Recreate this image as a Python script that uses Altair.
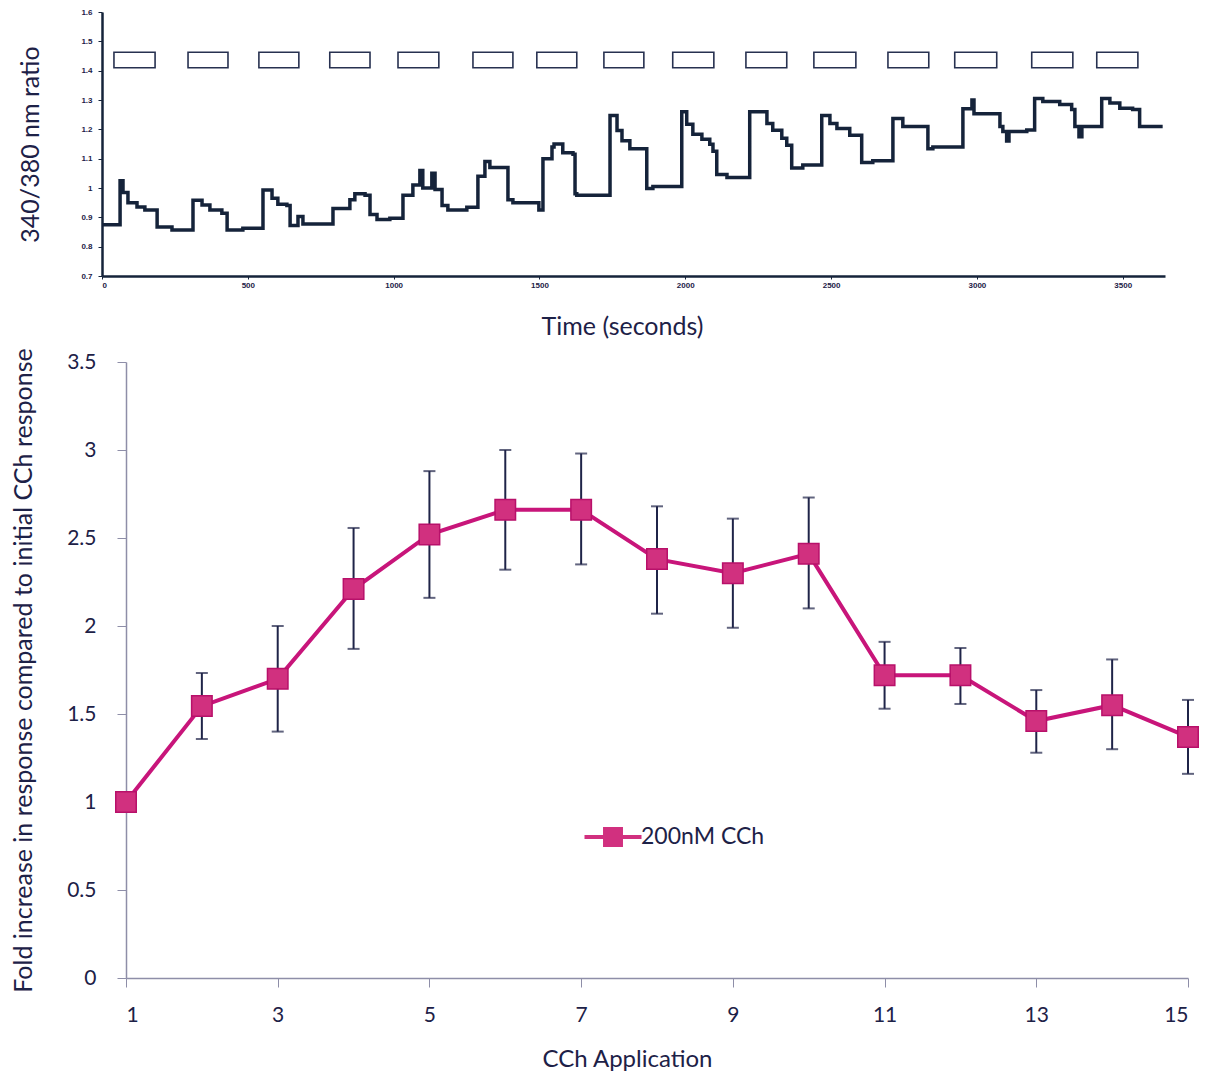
import altair as alt
import pandas as pd

# ---------------- top panel: 340/380 ratio trace ----------------
trace_t = [0, 62, 72, 89, 120, 147, 189, 240,
           312, 343, 370, 411, 429, 483,
           552, 583, 603, 634, 645, 672, 689,
           792, 850, 867, 902, 919, 943, 987,
           1032, 1066, 1090, 1100, 1131, 1142, 1166, 1186, 1251,
           1289, 1313, 1330, 1392, 1409, 1498,
           1512, 1543, 1550, 1580, 1615, 1622, 1628,
           1742, 1766, 1783, 1810, 1868, 1889,
           1988, 2005, 2026, 2057, 2084, 2095, 2108, 2143,
           2221, 2280, 2300, 2331, 2348, 2365, 2403,
           2468, 2496, 2520, 2564, 2605, 2643,
           2712, 2746, 2832, 2849,
           2952, 2983, 2990, 3079, 3089, 3102, 3110, 3171,
           3198, 3226, 3284, 3325, 3336, 3350, 3360,
           3428, 3456, 3490, 3534, 3558, 3637]
trace_r = [0.875, 1.025, 0.985, 0.95, 0.935, 0.925, 0.867, 0.857,
           0.958, 0.942, 0.925, 0.914, 0.857, 0.863,
           0.993, 0.965, 0.945, 0.94, 0.872, 0.903, 0.877,
           0.93, 0.96, 0.98, 0.975, 0.91, 0.893, 0.897,
           0.975, 1.01, 1.06, 1.0, 1.05, 0.995, 0.94, 0.925, 0.934,
           1.04, 1.09, 1.07, 0.96, 0.95, 0.925,
           1.10, 1.14, 1.15, 1.12, 1.115, 0.98, 0.975,
           1.247, 1.196, 1.161, 1.134, 0.998, 1.005,
           1.26, 1.217, 1.183, 1.166, 1.149, 1.125, 1.046, 1.036,
           1.26, 1.22, 1.197, 1.17, 1.146, 1.068, 1.078,
           1.247, 1.22, 1.203, 1.18, 1.087, 1.093,
           1.237, 1.21, 1.134, 1.14,
           1.27, 1.30, 1.253, 1.21, 1.193, 1.16, 1.193, 1.198,
           1.305, 1.295, 1.285, 1.268, 1.21, 1.175, 1.21,
           1.305, 1.29, 1.272, 1.268, 1.21, 1.21]

# CCh application periods (boxes)
box_start = [41, 295, 538, 781, 1015, 1272, 1491, 1721, 1957, 2208, 2441, 2695, 2924, 3188, 3411]
box_end = [182, 432, 675, 919, 1155, 1409, 1628, 1858, 2098, 2348, 2585, 2835, 3068, 3329, 3552]
box_low = 1.41
box_high = 1.463

top_x_ticks = [0, 500, 1000, 1500, 2000, 2500, 3000, 3500]
top_y_ticks = [0.7, 0.8, 0.9, 1.0, 1.1, 1.2, 1.3, 1.4, 1.5, 1.6]

# ---------------- bottom panel: fold increase ----------------
application = list(range(1, 16))
fold = [1.0, 1.545, 1.70, 2.21, 2.52, 2.66, 2.66, 2.38, 2.30, 2.41, 1.72, 1.72, 1.46, 1.55, 1.37]
err_low = [None, 1.358, 1.40, 1.87, 2.16, 2.32, 2.35, 2.07, 1.99, 2.10, 1.53, 1.557, 1.28, 1.30, 1.16]
err_high = [None, 1.733, 2.00, 2.557, 2.88, 3.00, 2.98, 2.68, 2.61, 2.73, 1.91, 1.875, 1.636, 1.81, 1.58]
series_name = "200nM CCh"

bottom_x_ticks = [1, 3, 5, 7, 9, 11, 13, 15]
bottom_y_ticks = [0, 0.5, 1, 1.5, 2, 2.5, 3, 3.5]

TEXT = "#1d2147"
NAVY = "#15233a"
MAGENTA = "#c8157a"
AXIS_GREY = "#8e8ea8"
FONT = "Lato"

trace_df = pd.DataFrame({"t": trace_t, "r": trace_r, "i": list(range(len(trace_t)))})
box_df = pd.DataFrame({"s": box_start, "e": box_end,
                       "lo": [box_low] * len(box_start), "hi": [box_high] * len(box_start)})

W = 1063
xs_top = alt.Scale(domain=[0, 3645], range=[-24, W - 24], nice=False, zero=False)
ys_top = alt.Scale(domain=[0.7, 1.6], nice=False, zero=False)

top_xax = alt.Axis(
    values=top_x_ticks, format="d", grid=False, labelFontSize=8, labelFontWeight="bold",
    labelFont="Liberation Sans", labelColor=TEXT, tickSize=3, tickColor=NAVY,
    domainColor=NAVY, domainWidth=2.5, labelPadding=2, labelOverlap=False,
    title="Time (seconds)", titleFontSize=25, titleFontWeight="normal", titleColor=TEXT,
    titleFont=FONT, titleX=496, titleY=58, titleAlign="center", titleBaseline="alphabetic")
top_yax = alt.Axis(
    values=top_y_ticks, format="~g", grid=False, labelFontSize=8, labelFontWeight="bold",
    labelFont="Liberation Sans", labelColor=TEXT, tickSize=4, tickColor=NAVY,
    domainColor=NAVY, domainWidth=2.5, offset=24, labelPadding=6, labelOverlap=False,
    title="340/380 nm ratio", titleFontSize=25, titleFontWeight="normal", titleColor=TEXT,
    titleFont=FONT, titlePadding=37)

trace = alt.Chart(trace_df).mark_line(interpolate="step-after", color=NAVY, strokeWidth=3.5).encode(
    x=alt.X("t:Q", scale=xs_top, axis=top_xax),
    y=alt.Y("r:Q", scale=ys_top, axis=top_yax),
    order="i:Q",
)

boxes = alt.Chart(box_df).mark_rect(fillOpacity=0, stroke="#273150", strokeWidth=1.6).encode(
    x=alt.X("s:Q", scale=xs_top, axis=top_xax), x2="e:Q",
    y=alt.Y("lo:Q", scale=ys_top, axis=top_yax), y2="hi:Q")

top = alt.layer(trace, boxes).properties(width=W, height=264)

main_df = pd.DataFrame({"app": application, "fold": fold, "series": [series_name] * len(fold)})
err_df = pd.DataFrame([{"app": a, "lo": l, "hi": h}
                       for a, l, h in zip(application, err_low, err_high) if l is not None])

xs_b = alt.Scale(domain=[1, 15], nice=False, zero=False)
ys_b = alt.Scale(domain=[0, 3.5], nice=False)

xax = alt.Axis(values=bottom_x_ticks, format="d", grid=False, labelFontSize=21, labelColor=TEXT,
               labelFont=FONT, tickSize=9, tickColor=AXIS_GREY, domainColor=AXIS_GREY, domainWidth=1.5,
               labelPadding=17,
               title="CCh Application", titleFontSize=24, titleFontWeight="normal", titleColor=TEXT,
               titleFont=FONT, titleX=501, titleY=88, titleAlign="center", titleBaseline="alphabetic")
yax = alt.Axis(values=bottom_y_ticks, format="~g", grid=False, labelFontSize=21, labelColor=TEXT,
               labelFont=FONT, tickSize=9, tickColor=AXIS_GREY, domainColor=AXIS_GREY, domainWidth=1.5,
               labelPadding=21,
               title="Fold  increase  in response compared to initial CCh response", titleFontSize=25,
               titleFontWeight="normal", titleColor=TEXT, titleFont=FONT, titlePadding=30)

base_err = alt.Chart(err_df)
err_rule = base_err.mark_rule(color="#1f2448", strokeWidth=2).encode(
    x=alt.X("app:Q", scale=xs_b, axis=xax), y=alt.Y("lo:Q", scale=ys_b, axis=yax), y2="hi:Q")
cap_lo = base_err.mark_tick(orient="horizontal", size=12, thickness=2, color="#1f2448").encode(
    x=alt.X("app:Q", axis=xax), y=alt.Y("lo:Q", axis=yax))
cap_hi = base_err.mark_tick(orient="horizontal", size=12, thickness=2, color="#1f2448").encode(
    x=alt.X("app:Q", axis=xax), y=alt.Y("hi:Q", axis=yax))

line = alt.Chart(main_df).mark_line(color=MAGENTA, strokeWidth=4).encode(
    x=alt.X("app:Q", axis=xax), y=alt.Y("fold:Q", axis=yax))

legend_path = "M-1.6,-0.11H1.6V0.11H-1.6Z M-0.56,-0.56H0.56V0.56H-0.56Z"
pts = alt.Chart(main_df).mark_point(shape="square", filled=True, size=420, opacity=1,
                                     stroke="#b8106a", strokeWidth=1.5).encode(
    x=alt.X("app:Q", axis=xax), y=alt.Y("fold:Q", axis=yax),
    color=alt.Color("series:N", scale=alt.Scale(range=["#d1307f"]), legend=alt.Legend(
        title=None, orient="none", legendX=469, legendY=807, symbolType=legend_path,
        symbolSize=1269, symbolStrokeWidth=0, symbolOpacity=1, labelFontSize=23,
        labelColor=TEXT, labelFont=FONT, labelOffset=10)),
)

bottom = alt.layer(err_rule, cap_lo, cap_hi, line, pts).properties(width=1062, height=616)

chart = alt.vconcat(top, bottom, spacing=2).properties(
    padding={"left": 3, "top": 0, "right": 5, "bottom": 2}
).configure(font=FONT, background="white").configure_view(strokeWidth=0, stroke="transparent")

chart.save("out.html", embed_options={"renderer": "svg", "actions": False})
